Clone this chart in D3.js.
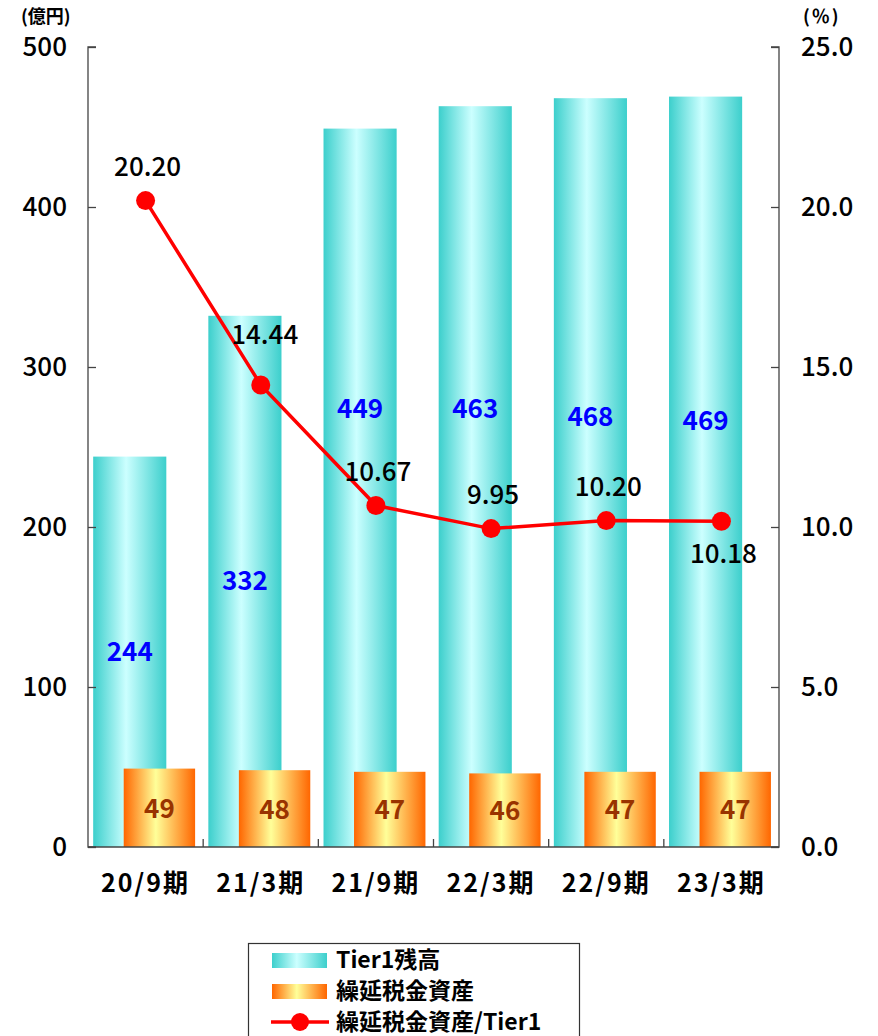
<!DOCTYPE html>
<html><head><meta charset="utf-8">
<script src="https://cdn.jsdelivr.net/npm/d3@7"></script>
<style>
body{margin:0;background:#fff;}
text{font-family:"Noto Sans CJK JP","Noto Sans",sans-serif;}
</style></head>
<body>
<svg id="c" width="878" height="1036"></svg>
<script>
const categories = ["20/9期","21/3期","21/9期","22/3期","22/9期","23/3期"];
const tier1 = [244,332,449,463,468,469];
const dta = [49,48,47,46,47,47];
const ratio = [20.20,14.44,10.67,9.95,10.20,10.18];
const tier1LabelAt = [122,166,274,274,269,266];
const ratioLabelBelow = [false,false,false,false,false,true];
const leftTicks = [0,100,200,300,400,500];
const rightTicks = [0,5,10,15,20,25];
const legendNames = ["Tier1残高","繰延税金資産","繰延税金資産/Tier1"];

const svg = d3.select("#c");
const L=88, R=779, T=47, B=847;
const x = d3.scaleBand().domain(categories).range([L,R]).padding(0);
const y = d3.scaleLinear().domain([0,500]).range([B,T]);
const y2 = d3.scaleLinear().domain([0,25]).range([B,T]);
const bw = x.bandwidth();
const numFont = "Liberation Sans, Arial, sans-serif";

const defs = svg.append("defs");
function grad(id, edge, mid){
  const g = defs.append("linearGradient").attr("id",id).attr("x1","0").attr("x2","1").attr("y1","0").attr("y2","0");
  g.append("stop").attr("offset","0%").attr("stop-color",edge);
  g.append("stop").attr("offset","45%").attr("stop-color",mid);
  g.append("stop").attr("offset","100%").attr("stop-color",edge);
}
grad("gc","#3CCFCC","#CCFFFF");
grad("go","#FF6600","#FFFF99");

// cyan bars
svg.append("g").selectAll("rect").data(tier1).join("rect")
  .attr("x",(d,i)=>x(categories[i])+bw*0.045)
  .attr("width",bw*0.635)
  .attr("y",d=>y(d)).attr("height",d=>B-y(d))
  .attr("fill","url(#gc)");
// orange bars
svg.append("g").selectAll("rect").data(dta).join("rect")
  .attr("x",(d,i)=>x(categories[i])+bw*0.31)
  .attr("width",bw*0.62)
  .attr("y",d=>y(d)).attr("height",d=>B-y(d))
  .attr("fill","url(#go)");

// axes
const axL = d3.axisLeft(y).tickValues(leftTicks).tickSize(-8).tickPadding(21).tickFormat(d3.format("d"));
const gL = svg.append("g").attr("transform",`translate(${L},0)`).call(axL);
gL.select(".domain").attr("stroke","#444").attr("stroke-width",1.3).attr("d",`M8,${T}H0V${B}H8`);
gL.selectAll(".tick line").attr("stroke","#444").attr("stroke-width",1.3);
gL.selectAll("text").attr("font-size",26).attr("font-weight",500).attr("fill","#000").attr("font-family",numFont);

const axR = d3.axisRight(y2).tickValues(rightTicks).tickSize(-8).tickPadding(22).tickFormat(d3.format(".1f"));
const gR = svg.append("g").attr("transform",`translate(${R},0)`).call(axR);
gR.select(".domain").attr("stroke","#444").attr("stroke-width",1.3).attr("d",`M-8,${T}H0V${B}H-8`);
gR.selectAll(".tick line").attr("stroke","#444").attr("stroke-width",1.3);
gR.selectAll("text").attr("font-size",26).attr("font-weight",500).attr("fill","#000").attr("font-family",numFont);

const axB = d3.axisBottom(x).tickSize(0).tickPadding(27);
const gB = svg.append("g").attr("transform",`translate(0,${B})`).call(axB);
gB.select(".domain").attr("stroke","#444").attr("stroke-width",1.3).attr("d",`M${L},0H${R}`);
gB.selectAll("text").attr("font-size",25).attr("font-weight",700).attr("fill","#000").attr("letter-spacing",2);
// category separators
svg.append("g").selectAll("line").data(categories.slice(1)).join("line")
  .attr("x1",d=>x(d)).attr("x2",d=>x(d)).attr("y1",B).attr("y2",B-8)
  .attr("stroke","#444").attr("stroke-width",1.3);

// unit labels
svg.append("text").attr("x",21).attr("y",23).attr("font-size",18).attr("font-weight",700).text("(億円)");
svg.append("text").attr("x",803).attr("y",23).attr("font-size",18).attr("font-weight",700).attr("letter-spacing",2).text("(％)");

// value labels
svg.append("g").selectAll("text").data(tier1).join("text")
  .attr("x",(d,i)=>x(categories[i])+bw*0.045+bw*0.635/2)
  .attr("y",(d,i)=>y(tier1LabelAt[i])+9)
  .attr("text-anchor","middle").attr("font-size",26).attr("font-weight",700)
  .attr("fill","#0000FF").attr("font-family",numFont)
  .text(d=>d);
svg.append("g").selectAll("text").data(dta).join("text")
  .attr("x",(d,i)=>x(categories[i])+bw*0.31+bw*0.62/2)
  .attr("y",(d,i)=>y(d/2)+10)
  .attr("text-anchor","middle").attr("font-size",26).attr("font-weight",700)
  .attr("fill","#993300").attr("font-family",numFont)
  .text(d=>d);

// line
const cx = (i)=>x(categories[i])+bw/2;
svg.append("path").datum(ratio)
  .attr("d",d3.line().x((d,i)=>cx(i)).y(d=>y2(d)))
  .attr("fill","none").attr("stroke","#FF0000").attr("stroke-width",3.5);
svg.append("g").selectAll("circle").data(ratio).join("circle")
  .attr("cx",(d,i)=>cx(i)).attr("cy",d=>y2(d)).attr("r",9.5).attr("fill","#FF0000");
svg.append("g").selectAll("text").data(ratio).join("text")
  .attr("x",(d,i)=>cx(i)+(i===1?4:2))
  .attr("y",(d,i)=>ratioLabelBelow[i] ? y2(d)+42 : y2(d)-(i===1?41:25))
  .attr("text-anchor","middle").attr("font-size",26).attr("font-weight",500)
  .attr("fill","#000").attr("font-family",numFont)
  .text(d=>d.toFixed(2));

// legend
const lg = svg.append("g");
lg.append("rect").attr("x",248.5).attr("y",943.5).attr("width",331).attr("height",120)
  .attr("fill","#fff").attr("stroke","#333").attr("stroke-width",1.2);
legendNames.forEach((n,i)=>{
  const yy = 960 + i*31;
  if(i===0) lg.append("rect").attr("x",272).attr("y",yy-7).attr("width",55).attr("height",15).attr("fill","url(#gc)");
  else if(i===1) lg.append("rect").attr("x",272).attr("y",yy-7).attr("width",55).attr("height",15).attr("fill","url(#go)");
  else {
    lg.append("line").attr("x1",271).attr("x2",329).attr("y1",yy).attr("y2",yy).attr("stroke","#FF0000").attr("stroke-width",3.5);
    lg.append("circle").attr("cx",300).attr("cy",yy).attr("r",9).attr("fill","#FF0000");
  }
  lg.append("text").attr("x",336).attr("y",yy+8).attr("font-size",23).attr("font-weight",700).text(n);
});
</script>
</body></html>
